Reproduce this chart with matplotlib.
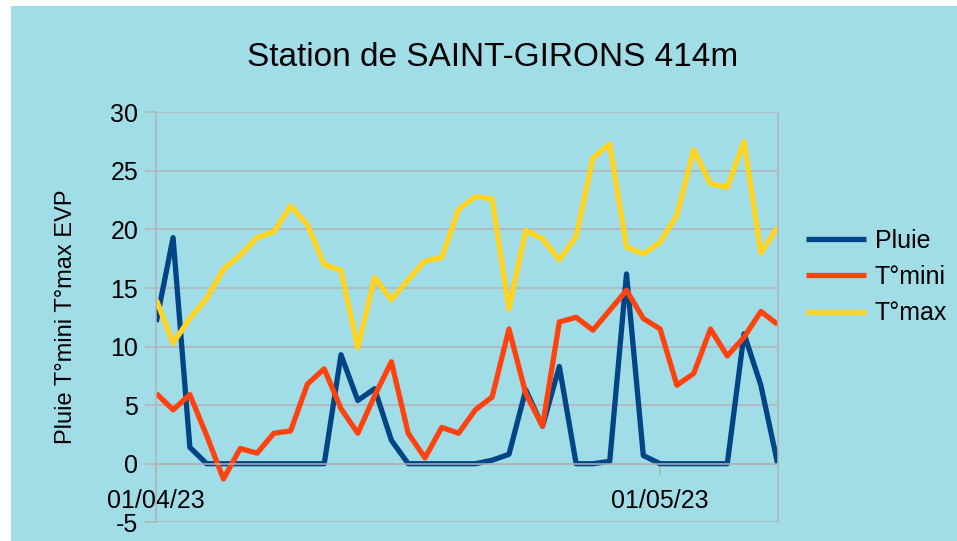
import pandas as pd
import matplotlib
matplotlib.use("Agg")
import matplotlib.pyplot as plt
import matplotlib.dates as mdates
from matplotlib.patches import Rectangle

plt.rcParams["font.family"] = ["Liberation Sans", "DejaVu Sans"]
plt.rcParams["axes.unicode_minus"] = False

# daily values, 01/04/23 -> 08/05/23
dates = pd.date_range("2023-04-01", "2023-05-08", freq="D")

pluie = [12.1, 19.3, 1.4, 0.0, 0.0, 0.0, 0.0, 0.0, 0.0, 0.0,
         0.0, 9.3, 5.4, 6.4, 2.0, 0.0, 0.0, 0.0, 0.0, 0.0,
         0.3, 0.8, 6.3, 3.2, 8.3, 0.0, 0.0, 0.2, 16.2, 0.7,
         0.0, 0.0, 0.0, 0.0, 0.0, 11.1, 6.7, 0.0]
tmini = [6.0, 4.6, 5.9, 2.4, -1.3, 1.3, 0.9, 2.6, 2.8, 6.8,
         8.1, 4.7, 2.6, 5.8, 8.7, 2.6, 0.5, 3.1, 2.6, 4.6,
         5.7, 11.5, 6.0, 3.2, 12.1, 12.5, 11.4, 13.1, 14.8, 12.4,
         11.5, 6.7, 7.7, 11.5, 9.2, 10.8, 13.0, 11.9]
tmax = [14.0, 10.3, 12.4, 14.1, 16.6, 17.8, 19.3, 19.8, 22.0, 20.4,
        17.0, 16.5, 9.9, 15.9, 14.0, 15.7, 17.3, 17.6, 21.7, 22.8,
        22.6, 13.2, 19.9, 19.2, 17.4, 19.4, 26.1, 27.3, 18.5, 17.9,
        18.9, 21.2, 26.8, 23.9, 23.6, 27.5, 18.0, 20.2]

series = [("Pluie", pluie, "#004586"),
          ("T°mini", tmini, "#ff420e"),
          ("T°max", tmax, "#ffd320")]

y_ticks = [-5, 0, 5, 10, 15, 20, 25, 30]
x_ticks = ["2023-04-01", "2023-05-01"]

bg = "#a1dde7"
grid_col = "#b3b3b3"

fig = plt.figure(figsize=(9.57, 5.41), dpi=100, facecolor="white")
# light blue panel with a thin white strip on top and left
fig.patches.append(Rectangle((11 / 957, 0), 1 - 11 / 957, 1 - 6 / 541,
                             transform=fig.transFigure, facecolor=bg,
                             edgecolor="none", zorder=-10))

ax = fig.add_axes([0.1633, 0.0346, 0.6493, 0.7578])
ax.set_zorder(1)
ax.set_facecolor(bg)

for name, vals, col in series:
    ax.plot(dates, vals, color=col, linewidth=3.8, label=name,
            solid_joinstyle="round", solid_capstyle="butt")

ax.set_xlim(dates[0], dates[-1])
ax.set_ylim(-5, 30)
ax.set_yticks(y_ticks)
ax.yaxis.grid(True, color=grid_col, linewidth=1.1)
ax.set_axisbelow(True)

ax.set_xticks(pd.to_datetime(x_ticks))
ax.xaxis.set_major_formatter(mdates.DateFormatter("%d/%m/%y"))

ax.spines["top"].set_visible(False)
for side in ["left", "right", "bottom"]:
    ax.spines[side].set_color(grid_col)
    ax.spines[side].set_linewidth(1.1)
ax.spines["bottom"].set_position(("data", 0))

ax.tick_params(axis="y", labelsize=18, length=8, color=grid_col, width=1.1, pad=5)
ax.tick_params(axis="x", labelsize=18, length=8, color=grid_col, width=1.1, pad=10)

fig.text(492.5 / 957, 1 - 57 / 541, "Station de SAINT-GIRONS 414m",
         fontsize=24, ha="center", va="center")
fig.text(66 / 957, 1 - 317 / 541, "Pluie T°mini T°max EVP",
         fontsize=17, rotation=90, ha="center", va="center")

fig.legend(loc="center left", bbox_to_anchor=(806 / 957, 1 - 277 / 541),
           frameon=False, fontsize=18, handlelength=2.4, handletextpad=0.35,
           labelspacing=0.5, borderpad=0, borderaxespad=0)

fig.savefig("out.png", dpi=100, facecolor="white")
